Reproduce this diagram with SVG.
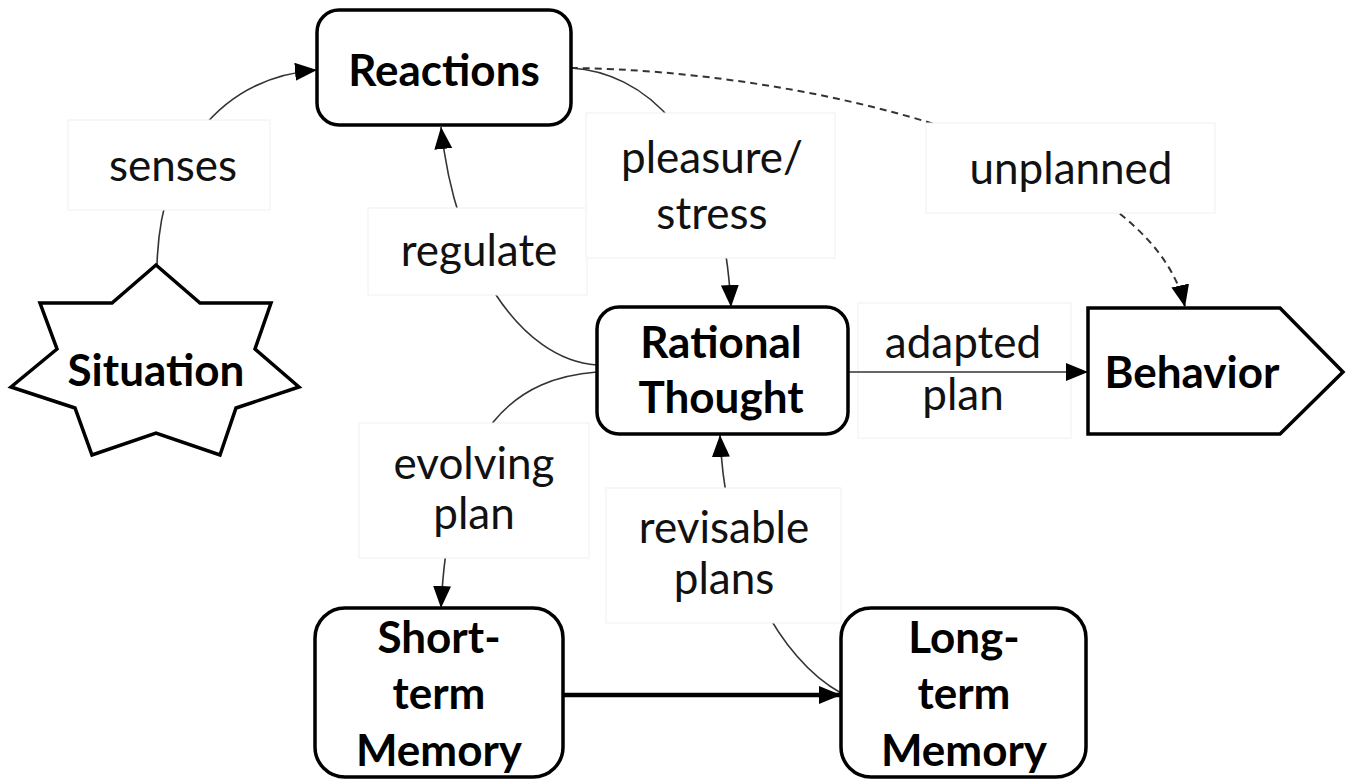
<svg xmlns="http://www.w3.org/2000/svg" width="1348" height="781" viewBox="0 0 1348 781">
<style>
.node{fill:#fff;stroke:#000;stroke-width:3.5}
.t{font-family:Lato,"Liberation Sans",sans-serif;font-weight:bold;font-size:44px;text-anchor:middle;fill:#000}
.l{font-family:Lato,"Liberation Sans",sans-serif;font-size:44px;text-anchor:middle;fill:#111}
.lb{fill:#fff;stroke:#f0f0f0;stroke-width:1}
.c{fill:none;stroke:#333;stroke-width:1.6}
.d{fill:none;stroke:#333;stroke-width:2;stroke-dasharray:7,5}
</style>
<defs>
<marker id="ah" markerUnits="userSpaceOnUse" markerWidth="24" markerHeight="20" refX="22" refY="9" orient="auto">
<path d="M0,0 L22,9 L0,18 Z" fill="#000"/>
</marker>
</defs>
<g id="connectors">
<path class="c" d="M157,265 C160,160 215,78 317,70" marker-end="url(#ah)"/>
<path class="c" d="M597,365 C520,360 455,260 441,127" marker-end="url(#ah)"/>
<path class="c" d="M571,68 C640,72 722,130 731,307" marker-end="url(#ah)"/>
<path class="d" d="M571,68 C800,70 1150,150 1185,307" marker-end="url(#ah)"/>
<path class="c" d="M597,372 C520,378 450,420 441,608" marker-end="url(#ah)"/>
<path class="c" d="M841,693 C780,660 725,560 720,435" marker-end="url(#ah)"/>
<path fill="none" stroke="#000" stroke-width="4.5" d="M563,695 L841,695" marker-end="url(#ah)"/>
</g>
<g id="edge-labels">
<g id="lbl-senses"><rect class="lb" x="68" y="120" width="202" height="90"/><text class="l" x="173" y="181">senses</text></g>
<g id="lbl-regulate"><rect class="lb" x="368" y="208" width="219" height="87"/><text class="l" x="479" y="266">regulate</text></g>
<g id="lbl-pleasure"><rect class="lb" x="586" y="113" width="249" height="145"/><text class="l" x="712" y="173">pleasure/</text><text class="l" x="712" y="229">stress</text></g>
<g id="lbl-unplanned"><rect class="lb" x="926" y="123" width="289" height="90"/><text class="l" x="1071" y="184">unplanned</text></g>
<g id="lbl-adapted"><rect class="lb" x="858" y="303" width="213" height="135"/><text class="l" x="963" y="358">adapted</text><text class="l" x="963" y="410">plan</text></g>
<g id="lbl-evolving"><rect class="lb" x="359" y="423" width="230" height="135"/><text class="l" x="474" y="479">evolving</text><text class="l" x="474" y="529">plan</text></g>
<g id="lbl-revisable"><rect class="lb" x="606" y="488" width="235" height="135"/><text class="l" x="724" y="543">revisable</text><text class="l" x="724" y="594">plans</text></g>
</g>
<g id="connectors-top">
<path class="c" d="M848,372 L1088,372" marker-end="url(#ah)"/>
</g>
<g id="node-reactions"><rect class="node" x="317" y="10" width="254" height="115" rx="22"/><text class="t" x="444" y="86">Reactions</text></g>
<g id="node-situation"><polygon class="node" points="156,265 200,303 271,303 255,349 299,387 236,408 220,455 156,433 92,455 75,408 11,387 57,349 40,303 112,303"/><text class="t" x="156" y="386">Situation</text></g>
<g id="node-rational"><rect class="node" x="597" y="307" width="251" height="127" rx="22"/><text class="t" x="721" y="358">Rational</text><text class="t" x="721" y="413">Thought</text></g>
<g id="node-behavior"><polygon class="node" points="1088,308 1280,308 1343,372 1280,434 1088,434"/><text class="t" x="1192" y="388">Behavior</text></g>
<g id="node-stm"><rect class="node" x="315" y="608" width="248" height="169" rx="30"/><text class="t" x="439" y="653">Short-</text><text class="t" x="439" y="709">term</text><text class="t" x="439" y="766">Memory</text></g>
<g id="node-ltm"><rect class="node" x="841" y="608" width="245" height="169" rx="30"/><text class="t" x="964" y="653">Long-</text><text class="t" x="964" y="709">term</text><text class="t" x="964" y="766">Memory</text></g>
</svg>
